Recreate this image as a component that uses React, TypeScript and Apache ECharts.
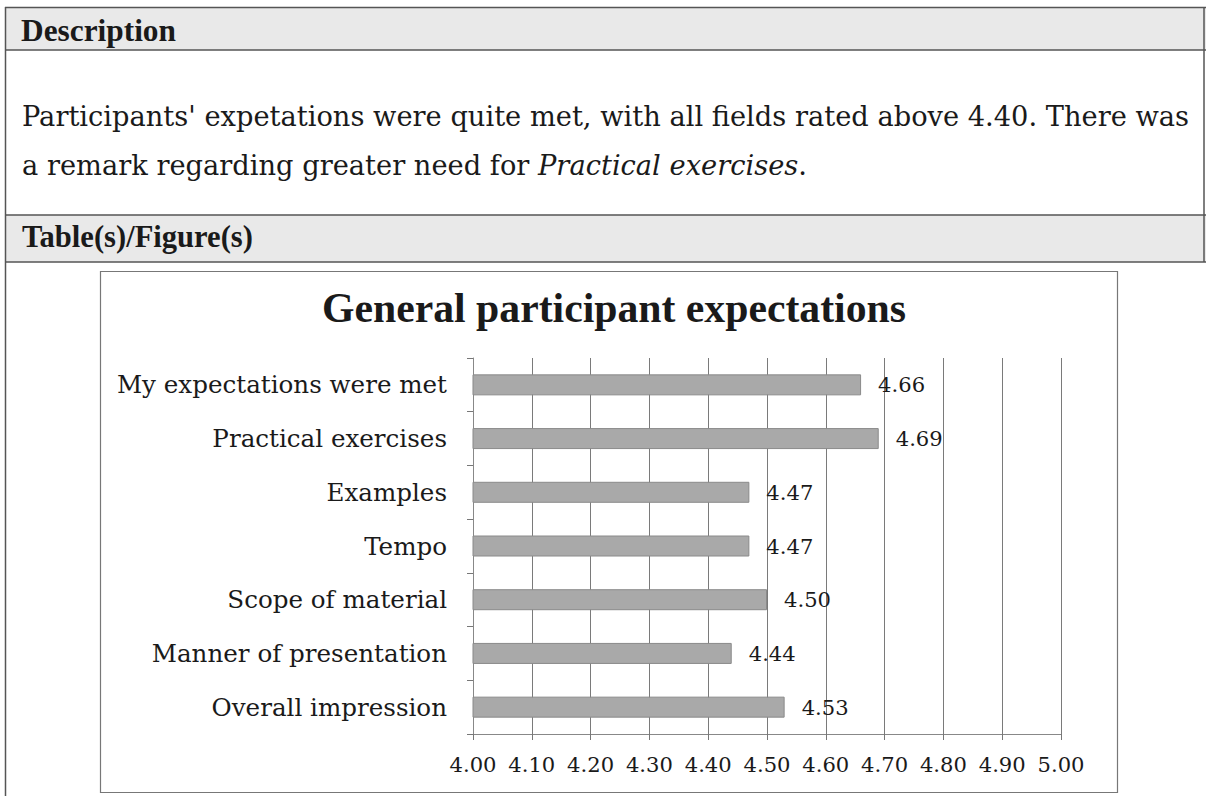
import React, { useEffect, useRef } from "react";
import * as echarts from "echarts";

const categories = [
  "My expectations were met",
  "Practical exercises",
  "Examples",
  "Tempo",
  "Scope of material",
  "Manner of presentation",
  "Overall impression",
];
const values = [4.66, 4.69, 4.47, 4.47, 4.5, 4.44, 4.53];
const axisMin = 4.0;
const axisMax = 5.0;
const axisStep = 0.1;

const headerDescription = "Description";
const headerFigures = "Table(s)/Figure(s)";
const descLine1 =
  "Participants' expetations were quite met, with all fields rated above 4.40. There was";
const descLine2Plain = "a remark regarding greater need for ";
const descLine2Italic = "Practical exercises";
const descLine2End = ".";
const chartTitle = "General participant expectations";

const REG = "'DejaVu Serif', 'Liberation Serif', serif";
const BOLD = "'Liberation Serif', 'DejaVu Serif', serif";

function fitSize(text: string, family: string, weight: string, target: number) {
  const c = document.createElement("canvas");
  const ctx = c.getContext("2d");
  if (!ctx) return 20;
  ctx.font = `normal ${weight} 100px ${family}`;
  const w = ctx.measureText(text).width;
  return (100 * target) / w;
}

export default function App() {
  const ref = useRef<HTMLDivElement>(null);
  useEffect(() => {
    if (!ref.current) return;
    const chart = echarts.init(ref.current, undefined, { renderer: "svg" });

    const descHeadSize = fitSize(headerDescription, BOLD, "bold", 155);
    const figHeadSize = fitSize(headerFigures, BOLD, "bold", 231);
    const line1Size = fitSize(descLine1, REG, "normal", 1168);
    const titleSize = fitSize(chartTitle, BOLD, "bold", 584);
    const catSize =
      (fitSize(categories[0], REG, "normal", 329) +
        fitSize(categories[6], REG, "normal", 239) +
        fitSize(categories[5], REG, "normal", 292)) /
      3;
    const numSize = fitSize("4.00", REG, "normal", 47);

    const lineColor = "#555";

    chart.setOption({
      animation: false,
      backgroundColor: "#ffffff",
      graphic: [
        { type: "rect", z: -5, shape: { x: 5, y: 7, width: 1201, height: 43 }, style: { fill: "#e9e9e9" } },
        { type: "rect", z: -5, shape: { x: 5, y: 215, width: 1201, height: 47 }, style: { fill: "#e9e9e9" } },
        { type: "line", shape: { x1: 5, y1: 7.5, x2: 1206, y2: 7.5 }, style: { stroke: lineColor, lineWidth: 1.5 } },
        { type: "line", shape: { x1: 5, y1: 50, x2: 1206, y2: 50 }, style: { stroke: lineColor, lineWidth: 1.5 } },
        { type: "line", shape: { x1: 5, y1: 215, x2: 1206, y2: 215 }, style: { stroke: lineColor, lineWidth: 1.5 } },
        { type: "line", shape: { x1: 5, y1: 262, x2: 1206, y2: 262 }, style: { stroke: lineColor, lineWidth: 1.5 } },
        { type: "line", shape: { x1: 5.5, y1: 7, x2: 5.5, y2: 796 }, style: { stroke: lineColor, lineWidth: 1.5 } },
        { type: "line", shape: { x1: 1204, y1: 7, x2: 1204, y2: 262 }, style: { stroke: lineColor, lineWidth: 1.5 } },
        {
          type: "rect",
          z: -5,
          shape: { x: 100.5, y: 271.5, width: 1017, height: 521 },
          style: { fill: "none", stroke: "#777", lineWidth: 1.2 },
        },
        {
          type: "text",
          x: 21,
          y: 30,
          style: {
            text: headerDescription,
            font: `bold ${descHeadSize}px ${BOLD}`,
            fill: "#1a1a1a",
            verticalAlign: "middle",
          },
        },
        {
          type: "text",
          x: 22,
          y: 116,
          style: {
            text: descLine1,
            font: `normal ${line1Size}px ${REG}`,
            fill: "#1a1a1a",
            verticalAlign: "middle",
          },
        },
        {
          type: "text",
          x: 22,
          y: 165,
          style: {
            text: `${descLine2Plain}{i|${descLine2Italic}}${descLine2End}`,
            font: `normal ${line1Size}px ${REG}`,
            fill: "#1a1a1a",
            verticalAlign: "middle",
            rich: {
              i: { fontStyle: "italic", fontSize: line1Size, fontFamily: REG, fill: "#1a1a1a" },
            },
          },
        },
        {
          type: "text",
          x: 22,
          y: 237,
          style: {
            text: headerFigures,
            font: `bold ${figHeadSize}px ${BOLD}`,
            fill: "#1a1a1a",
            verticalAlign: "middle",
          },
        },
        {
          type: "text",
          x: 614,
          y: 308,
          style: {
            text: chartTitle,
            font: `bold ${titleSize}px ${BOLD}`,
            fill: "#1a1a1a",
            align: "center",
            verticalAlign: "middle",
          },
        },
      ],
      grid: { left: 473, right: 145, top: 358, bottom: 62, containLabel: false },
      xAxis: {
        type: "value",
        min: axisMin,
        max: axisMax,
        interval: axisStep,
        axisLine: { show: true, lineStyle: { color: "#888", width: 1 } },
        axisTick: { show: true, length: 6, lineStyle: { color: "#777" } },
        splitLine: { show: true, lineStyle: { color: "#7a7a7a", width: 1 } },
        axisLabel: {
          margin: 20,
          fontFamily: REG,
          fontSize: numSize,
          color: "#1a1a1a",
          formatter: (v: number) => v.toFixed(2),
        },
      },
      yAxis: {
        type: "category",
        inverse: true,
        data: categories,
        axisLine: { show: true, lineStyle: { color: "#888", width: 1 } },
        axisTick: { show: true, length: 6, alignWithLabel: false, lineStyle: { color: "#777" } },
        splitLine: { show: false },
        axisLabel: {
          margin: 26,
          fontFamily: REG,
          fontSize: catSize,
          color: "#1a1a1a",
        },
      },
      series: [
        {
          type: "bar",
          data: values,
          barWidth: 21,
          itemStyle: { color: "#a9a9a9", borderColor: "#8a8a8a", borderWidth: 1 },
          label: {
            show: true,
            position: "right",
            distance: 17,
            fontFamily: REG,
            fontSize: numSize,
            color: "#1a1a1a",
            formatter: (p: any) => Number(p.value).toFixed(2),
          },
        },
      ],
    });
    return () => chart.dispose();
  }, []);
  return (
    <div
      ref={ref}
      style={{ position: "absolute", left: 0, top: 0, width: 1206, height: 796 }}
    />
  );
}
